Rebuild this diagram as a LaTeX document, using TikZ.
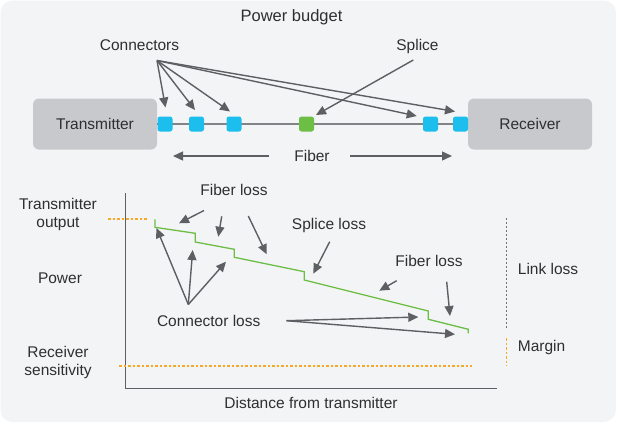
\documentclass[tikz,border=0pt]{standalone}
\usepackage{fontspec}
\setmainfont{Liberation Sans}
\usetikzlibrary{arrows.meta}
\definecolor{bgc}{HTML}{F3F4F6}
\definecolor{txt}{HTML}{2E2F31}
\definecolor{boxc}{HTML}{C8C9CC}
\definecolor{cyanc}{HTML}{1BBEEC}
\definecolor{greenc}{HTML}{6DBE45}
\definecolor{arrc}{HTML}{5E5F63}
\definecolor{fibc}{HTML}{828386}
\definecolor{orangec}{HTML}{F7A829}
\definecolor{dotc}{HTML}{6E6F73}
\begin{document}
\begin{tikzpicture}[x=1pt,y=-1pt,
  lbl/.style={font=\fontsize{15.5}{18.5}\selectfont, text=txt, inner sep=0pt, anchor=base},
  lblw/.style={lbl, anchor=base west},
  bigbox/.style={fill=boxc, rounded corners=6pt, minimum width=124pt, minimum height=51pt, inner sep=0pt},
  conn/.style={fill=cyanc, rounded corners=2.5pt, minimum size=15pt, inner sep=0pt},
  spl/.style={conn, fill=greenc},
  arr/.style={draw=arrc, line width=1.4pt, -{Triangle[length=10pt,width=9pt]}},
  orng/.style={draw=orangec, line width=1.5pt, dash pattern=on 2.5pt off 2pt},
  gdot/.style={draw=dotc, line width=1.5pt, dash pattern=on 2pt off 2pt},
  axis/.style={draw=arrc, line width=1.4pt},
  curve/.style={draw=greenc, line width=1.3pt}
]
\useasboundingbox (0,0) rectangle (619,424);
\fill[bgc, rounded corners=12pt] (0.5,0.5) rectangle (616,422);

% title
\node[lbl, font=\fontsize{16.5}{19}\selectfont] (title) at (291.5,21) {Power budget};

% top schematic
\node[bigbox] (tx) at (95,124) {};
\node[lbl] (txl) at (95,129.3) {Transmitter};
\node[bigbox] (rx) at (530,124) {};
\node[lbl] (rxl) at (530,129.3) {Receiver};
\draw[fibc, line width=1.8pt] (tx.east) -- (rx.west);
\node[conn] (c1) at (165,124) {};
\node[conn] (c2) at (196.5,124) {};
\node[conn] (c3) at (234,124) {};
\node[spl]  (sp) at (306.5,124) {};
\node[conn] (c4) at (430.5,124) {};
\node[conn] (c5) at (460.5,124) {};

\node[lbl] (connl) at (139.5,50) {Connectors};
\node[lbl] (splicel) at (417.5,50) {Splice};
\coordinate (cs) at (157,60.5);
\coordinate (t1) at (165.5,107.5);
\coordinate (t2) at (195,110);
\coordinate (t3) at (230,111.5);
\coordinate (t4) at (416.7,116);
\coordinate (t5) at (455,111.5);
\draw[arr] (cs) -- (t1);
\draw[arr] (cs) -- (t2);
\draw[arr] (cs) -- (t3);
\draw[arr] (cs) -- (t4);
\draw[arr] (cs) -- (t5);
\coordinate (ss) at (413.3,60);
\coordinate (st) at (316,115);
\draw[arr] (ss) -- (st);

\node[lbl] (fiberl) at (312,161) {Fiber};
\coordinate (fl0) at (269,156);
\coordinate (fl1) at (173,156);
\coordinate (fr0) at (350,156);
\coordinate (fr1) at (452,156);
\draw[arr] (fl0) -- (fl1);
\draw[arr] (fr0) -- (fr1);

% graph axes
\coordinate (ytop) at (125.3,193.3);
\coordinate (orig) at (125.3,388.3);
\coordinate (xend) at (496.7,388.3);
\draw[axis] (ytop) -- (orig) -- (xend);

\node[lbl] (txo1) at (58,209) {Transmitter};
\node[lbl] (txo2) at (58,227) {output};
\node[lbl] (pow) at (60,283) {Power};
\node[lbl] (rs1) at (58,357) {Receiver};
\node[lbl] (rs2) at (58,375) {sensitivity};
\node[lbl] (dist) at (311,408) {Distance from transmitter};

\coordinate (o1a) at (108,219);
\coordinate (o1b) at (147,219);
\draw[orng] (o1a) -- (o1b);
\coordinate (o2a) at (119,366);
\coordinate (o2b) at (472,366);
\draw[orng] (o2a) -- (o2b);

% green power curve
\draw[curve] (155,219.3) -- (155,227.3) -- (195.3,233.3) -- (195.3,242) -- (234.3,249.3) -- (234.3,257.3)
  -- (304.3,271.7) -- (304.3,280) -- (428.3,311) -- (428.3,319.3) -- (468.3,329.3) -- (468.3,333.3);

% link loss / margin
\coordinate (ll0) at (506.7,218.3);
\coordinate (ll1) at (506.7,330);
\draw[gdot] (ll0) -- (ll1);
\coordinate (m0) at (506.7,338.3);
\coordinate (m1) at (506.7,366);
\draw[orng] (m0) -- (m1);
\node[lblw] (link) at (517.7,274) {Link loss};
\node[lblw] (marg) at (517.7,351) {Margin};

% fiber loss (top)
\node[lbl] (fl) at (234,195) {Fiber loss};
\coordinate (a1s) at (204,210.5);
\coordinate (a1t) at (179,223.3);
\coordinate (a2s) at (221.7,216.3);
\coordinate (a2t) at (218.3,236.7);
\coordinate (a3s) at (248.3,216);
\coordinate (a3t) at (266.7,254.3);
\draw[arr] (a1s) -- (a1t);
\draw[arr] (a2s) -- (a2t);
\draw[arr] (a3s) -- (a3t);

% splice loss
\node[lbl] (sl) at (329,229) {Splice loss};
\coordinate (s2s) at (329.7,241.7);
\coordinate (s2t) at (313.3,273.7);
\draw[arr] (s2s) -- (s2t);

% fiber loss (right)
\node[lbl] (fl2) at (429,266) {Fiber loss};
\coordinate (b1s) at (396.7,280.7);
\coordinate (b1t) at (379.3,290.7);
\coordinate (b2s) at (446.7,281.7);
\coordinate (b2t) at (450,316);
\draw[arr] (b1s) -- (b1t);
\draw[arr] (b2s) -- (b2t);

% connector loss
\node[lbl] (cl) at (208.7,326) {Connector loss};
\coordinate (cu) at (188.3,304.5);
\coordinate (u1) at (156.5,228);
\coordinate (u2) at (192.7,250);
\coordinate (u3) at (226,261.7);
\draw[arr] (cu) -- (u1);
\draw[arr] (cu) -- (u2);
\draw[arr] (cu) -- (u3);
\coordinate (cr) at (286.5,320.7);
\coordinate (r1) at (418.3,317);
\coordinate (r2) at (455,334.3);
\draw[arr] (cr) -- (r1);
\draw[arr] (cr) -- (r2);
\end{tikzpicture}
\end{document}
